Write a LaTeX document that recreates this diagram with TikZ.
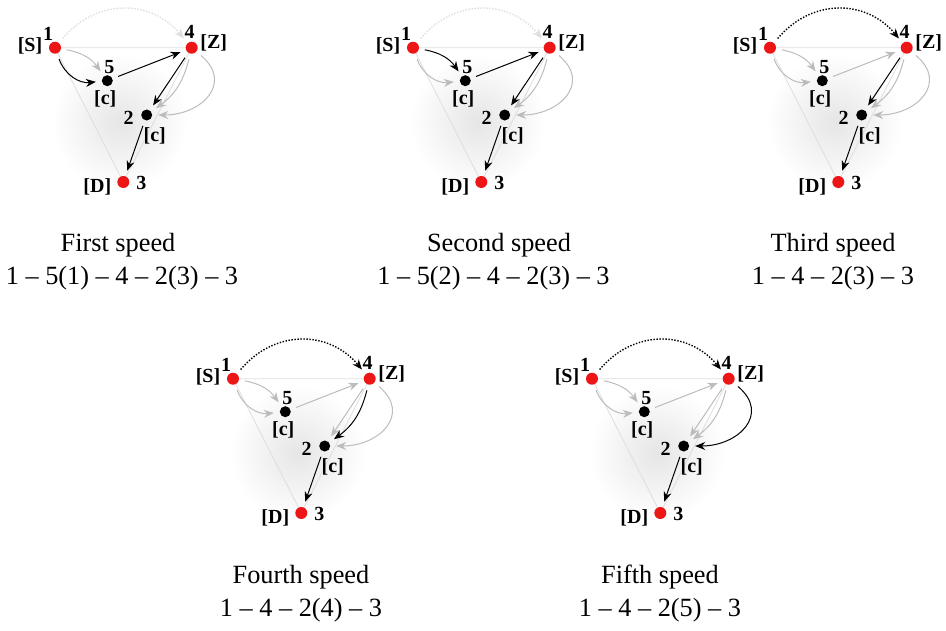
\documentclass[tikz,border=0pt]{standalone}
\usepackage{fontspec}
\setmainfont{Liberation Serif}
\usetikzlibrary{arrows.meta,calc,backgrounds}
\definecolor{dotred}{RGB}{236,22,22}
\definecolor{edgegray}{RGB}{188,188,188}
\definecolor{sidegray}{RGB}{222,222,222}
\tikzset{
  reddot/.style={circle, fill=dotred, minimum size=12pt, inner sep=0pt, outer sep=6pt},
  blackdot/.style={circle, fill=black, minimum size=11pt, inner sep=0pt, outer sep=6pt},
  lbl/.style={font=\fontsize{20}{22}\selectfont\bfseries, inner sep=0pt},
  captext/.style={font=\fontsize{26.3}{30}\selectfont, inner sep=0pt},
  side/.style={draw=sidegray, line width=0.8pt},
  usedarr/.style={draw=black, line width=1pt, -{Stealth[length=10pt,width=8pt]}},
  idlearr/.style={draw=edgegray, line width=1pt, -{Stealth[length=10pt,width=8pt]}},
  useddot/.style={usedarr, line width=1.4pt, dash pattern=on 1.4pt off 1.6pt},
  idledot/.style={idlearr, draw=sidegray, line width=1.4pt, dash pattern=on 1.4pt off 1.6pt}
}
% #1 name, #2 shift, #3 1-4 dotted, #4 1-5 lower, #5 1-5 upper, #6 5-4, #7..#9 4-2
\newcommand{\speedpanel}[9]{%
  \begin{scope}[shift={#2}]
    \node[reddot] (#1-1) at (55,47.7) {};
    \node[reddot] (#1-4) at (191.7,47.7) {};
    \node[reddot] (#1-3) at (123.3,182) {};
    \node[blackdot] (#1-5) at (107.3,80.7) {};
    \node[blackdot] (#1-2) at (146.7,115) {};
    \begin{scope}[on background layer]
      \shade[inner color=black!10, outer color=white] (120,122) circle (68);
      \draw[side] (#1-1.center) -- (#1-4.center) -- (#1-3.center) -- cycle;
    \end{scope}
    \draw[#3] (#1-1) to[out=50, in=130, looseness=1.1] (#1-4);
    \draw[#4] (#1-1) to[bend right=38] (#1-5);
    \draw[#5] (#1-1) to[bend left=22] (#1-5);
    \draw[#6] (#1-5) -- (#1-4);
    \draw[#7] (#1-4) -- (#1-2);
    \draw[#8] (#1-4) to[bend left=20] (#1-2);
    \draw[#9] (#1-4) to[out=-40, in=0, looseness=1.5] (#1-2);
    \draw[usedarr] (#1-2) -- (#1-3);
    \node[lbl] (#1-1n) at ($(#1-1)+(-7,-14)$) {1};
    \node[lbl] (#1-1t) at ($(#1-1)+(-25,-2)$) {[S]};
    \node[lbl] (#1-4n) at ($(#1-4)+(-2,-16)$) {4};
    \node[lbl] (#1-4t) at ($(#1-4)+(22,-5)$) {[Z]};
    \node[lbl] (#1-5n) at ($(#1-5)+(2,-14)$) {5};
    \node[lbl] (#1-5t) at ($(#1-5)+(-2,18)$) {[c]};
    \node[lbl] (#1-2n) at ($(#1-2)+(-18,3)$) {2};
    \node[lbl] (#1-2t) at ($(#1-2)+(8,21)$) {[c]};
    \node[lbl] (#1-3n) at ($(#1-3)+(18,1)$) {3};
    \node[lbl] (#1-3t) at ($(#1-3)+(-26,5)$) {[D]};
  \end{scope}}

\begin{document}
\begin{tikzpicture}[x=1pt, y=-1pt]
    \useasboundingbox (0,0) rectangle (946,630);
    \speedpanel{a}{(0,0)}{idledot}{usedarr}{idlearr}{usedarr}{usedarr}{idlearr}{idlearr}
    \speedpanel{b}{(358,0)}{idledot}{idlearr}{usedarr}{usedarr}{usedarr}{idlearr}{idlearr}
    \speedpanel{c}{(715,0)}{useddot}{idlearr}{idlearr}{idlearr}{usedarr}{idlearr}{idlearr}
    \speedpanel{d}{(178,331)}{useddot}{idlearr}{idlearr}{idlearr}{idlearr}{usedarr}{idlearr}
    \speedpanel{e}{(537,331)}{useddot}{idlearr}{idlearr}{idlearr}{idlearr}{idlearr}{usedarr}
    % captions
    \node[captext] (capa) at (118,245) {First speed};
    \node[captext] (forma) at (122,278) {1 -- 5(1) -- 4 -- 2(3) -- 3};
    \node[captext] (capb) at (499,245) {Second speed};
    \node[captext] (formb) at (493.5,278) {1 -- 5(2) -- 4 -- 2(3) -- 3};
    \node[captext] (capc) at (833,245) {Third speed};
    \node[captext] (formc) at (833,278) {1 -- 4 -- 2(3) -- 3};
    \node[captext] (capd) at (301,577) {Fourth speed};
    \node[captext] (formd) at (301,610) {1 -- 4 -- 2(4) -- 3};
    \node[captext] (cape) at (660,577) {Fifth speed};
    \node[captext] (forme) at (660,610) {1 -- 4 -- 2(5) -- 3};
\end{tikzpicture}
\end{document}
